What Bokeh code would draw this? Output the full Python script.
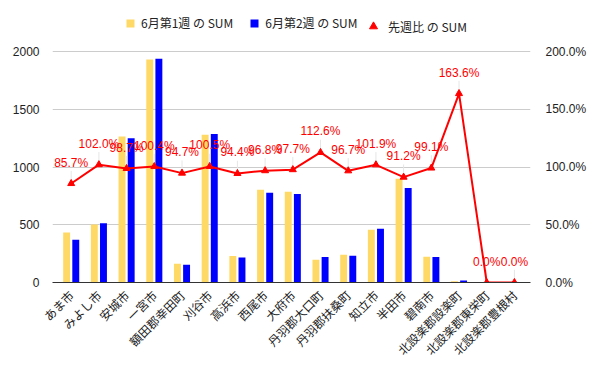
from bokeh.plotting import figure
from bokeh.models import (ColumnDataSource, Range1d, LinearAxis, Legend, LegendItem,
                          LabelSet, FixedTicker, CustomJSTickFormatter)
from bokeh.embed import file_html
from bokeh.resources import INLINE
from bokeh.core.properties import value
import math

categories = ["あま市", "みよし市", "安城市", "一宮市", "額田郡幸田町", "刈谷市", "高浜市",
              "西尾市", "大府市", "丹羽郡大口町", "丹羽郡扶桑町", "知立市", "半田市",
              "碧南市", "北設楽郡設楽町", "北設楽郡東栄町", "北設楽郡豊根村"]
week1 = [432, 502, 1264, 1930, 162, 1280, 230, 802, 785, 196, 240, 456, 898, 222, 11, 1, 0]
week2 = [370, 512, 1248, 1938, 153, 1286, 217, 776, 767, 221, 232, 465, 819, 220, 18, 0, 0]
ratio = [85.7, 102.0, 98.7, 100.4, 94.7, 100.5, 94.4, 96.8, 97.7, 112.6, 96.7, 101.9,
         91.2, 99.1, 163.6, 0.0, 0.0]
ratio_labels = ["%.1f%%" % r for r in ratio]
left_ticks = [0, 500, 1000, 1500, 2000]
right_ticks = [0, 50, 100, 150, 200]

YELLOW = "#FFD966"
BLUE = "#0000FF"
RED = "#FF0000"
FONT = "Liberation Sans"
CJK = "Noto Sans CJK JP"

# frame extends above the 2000 gridline to leave room for the legend
FRAME_H = 272
AXIS_H = 231
YMAX = 2000 * FRAME_H / AXIS_H
PMAX = 200 * FRAME_H / AXIS_H

idx = list(range(len(categories)))
src = ColumnDataSource(dict(
    x=idx,
    x1=[i - 0.165 for i in idx],
    x2=[i + 0.165 for i in idx],
    w1=week1, w2=week2, r=ratio,
    r0=[v + 1.5 for v in ratio], r1=[v + 11 for v in ratio],
    lab=ratio_labels,
))

p = figure(frame_width=478, frame_height=FRAME_H, output_backend="svg", toolbar_location=None,
           x_range=Range1d(-0.675, 16.58), y_range=Range1d(0, YMAX),
           min_border_left=52, min_border_right=70, min_border_top=10, min_border_bottom=5)
p.extra_y_ranges = {"pct": Range1d(0, PMAX)}
p.outline_line_color = None
p.background_fill_color = "white"

b1 = p.vbar(x="x1", top="w1", width=0.25, source=src, fill_color=YELLOW, line_color=None)
b2 = p.vbar(x="x2", top="w2", width=0.25, source=src, fill_color=BLUE, line_color=None)

p.segment(x0="x", y0="r0", x1="x", y1="r1", source=src, line_color="#e6e6e6",
          line_width=1, y_range_name="pct")
p.line(x="x", y="r", source=src, line_color=RED, line_width=2, y_range_name="pct")
tri = p.scatter(x="x", y="r", source=src, marker="triangle", size=7, fill_color=RED,
                line_color=RED, y_range_name="pct")

labels = LabelSet(x="x", y="r", text="lab", source=src, y_range_name="pct",
                  text_align="center", text_baseline="middle", y_offset=21,
                  text_color=RED, text_font_size="12px", text_font=value(FONT))
p.add_layout(labels)

# axes
p.yaxis.ticker = FixedTicker(ticks=left_ticks)
p.yaxis.axis_line_color = None
p.yaxis.major_tick_line_color = None
p.yaxis.minor_tick_line_color = None
p.yaxis.major_label_standoff = 7
p.yaxis.major_label_text_font = FONT
p.yaxis.major_label_text_font_size = "12px"
p.yaxis.major_label_text_color = "#222222"

ax2 = LinearAxis(y_range_name="pct", ticker=FixedTicker(ticks=right_ticks),
                 formatter=CustomJSTickFormatter(code="return tick.toFixed(1) + '%';"))
ax2.axis_line_color = None
ax2.major_tick_line_color = None
ax2.minor_tick_line_color = None
ax2.major_label_standoff = 9
ax2.major_label_text_font = FONT
ax2.major_label_text_font_size = "12px"
ax2.major_label_text_color = "#222222"
p.add_layout(ax2, "right")

p.xaxis.ticker = FixedTicker(ticks=idx)
p.xaxis.major_label_overrides = {i: c for i, c in enumerate(categories)}
p.xaxis.major_label_orientation = math.pi / 4
p.xaxis.major_tick_line_color = None
p.xaxis.minor_tick_line_color = None
p.xaxis.axis_line_color = "#333333"
p.xaxis.axis_line_width = 1
p.xaxis.major_label_standoff = 4
p.xaxis.major_label_text_font = CJK
p.xaxis.major_label_text_font_size = "12px"
p.xaxis.major_label_text_color = "#222222"

p.xgrid.grid_line_color = None
p.ygrid.grid_line_color = "#cccccc"
p.ygrid.ticker = FixedTicker(ticks=left_ticks[1:])


def style_legend(lg, glyph, standoff):
    lg.padding = 0
    lg.margin = 0
    lg.spacing = 16
    lg.glyph_width = glyph
    lg.glyph_height = glyph
    lg.label_height = glyph
    lg.label_standoff = standoff
    lg.label_text_font = CJK
    lg.label_text_font_size = "12px"
    lg.label_text_color = "#222222"
    lg.border_line_color = None
    lg.background_fill_alpha = 0


legend_bars = Legend(items=[
    LegendItem(label="6月第1週 の SUM", renderers=[b1]),
    LegendItem(label="6月第2週 の SUM", renderers=[b2]),
], orientation="horizontal", location=(73, 251))
style_legend(legend_bars, 10, 6)
p.add_layout(legend_bars, "center")

legend_line = Legend(items=[
    LegendItem(label="先週比 の SUM", renderers=[tri]),
], orientation="horizontal", location=(311, 246))
style_legend(legend_line, 20, 5)
p.add_layout(legend_line, "center")

open("out.html", "w").write(file_html(p, INLINE))
